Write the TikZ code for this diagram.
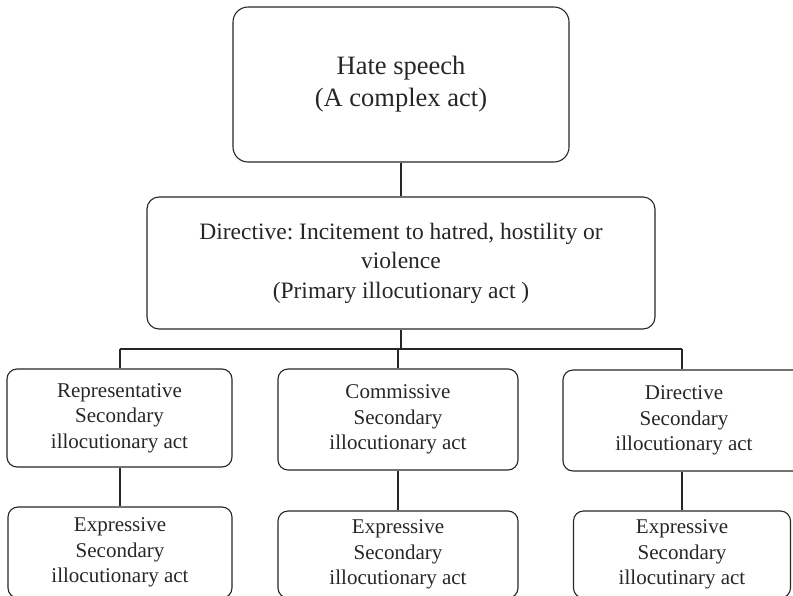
\documentclass[tikz,border=0pt]{standalone}
\usepackage{fontspec}
\setmainfont{Liberation Serif}
\frenchspacing
\begin{document}
\begin{tikzpicture}[x=1pt,y=-1pt,
  box/.style={draw=black!85, line width=1.1pt, align=center, inner sep=0pt, text=black!85},
  big/.style={box, rounded corners=15pt, font=\fontsize{26.5}{32}\selectfont},
  mid/.style={box, rounded corners=12pt, font=\fontsize{23.5}{29.5}\selectfont},
  small/.style={box, rounded corners=10pt, font=\fontsize{21}{25.5}\selectfont},
  con/.style={draw=black!85, line width=1.1pt}]
\useasboundingbox (0,0) rectangle (793,595);
\node[big, minimum width=336pt, minimum height=155pt] (top) at (401,84.5) {Hate speech\\ (A complex act)};
\node[mid, minimum width=508pt, minimum height=132pt] (dir) at (401,263) {Directive: Incitement to hatred, hostility or\\ violence\\ (Primary illocutionary act )};
\node[small, minimum width=225pt, minimum height=98pt] (rep) at (119.5,418) {Representative\\ Secondary\\ illocutionary act};
\node[small, minimum width=240pt, minimum height=101pt] (com) at (398,419.5) {Commissive\\ Secondary\\ illocutionary act};
\node[small, minimum width=242pt, minimum height=101pt] (dsec) at (684,420.5) {Directive\\ Secondary\\ illocutionary act};
\node[small, minimum width=224pt, minimum height=91pt] (e1) at (120,552.5) {Expressive\\ Secondary\\ illocutionary act};
\node[small, minimum width=240pt, minimum height=87pt] (e2) at (398,554.5) {Expressive\\ Secondary\\ illocutionary act};
\node[small, minimum width=217pt, minimum height=87pt] (e3) at (682,554.5) {Expressive\\ Secondary\\ illocutinary act};
\coordinate (j) at (401,349);
\coordinate (jl) at (120,349);
\coordinate (jm) at (398,349);
\coordinate (jr) at (682,349);
\draw[con] (top) -- (dir);
\draw[con] (dir.south) -- (j);
\draw[con] (jl) -- (jr);
\draw[con] (jl) -- (jl |- rep.north);
\draw[con] (jm) -- (com.north);
\draw[con] (jr) -- (jr |- dsec.north);
\draw[con] (e1.north |- rep.south) -- (e1.north);
\draw[con] (com.south) -- (e2.north);
\draw[con] (e3.north |- dsec.south) -- (e3.north);
\end{tikzpicture}
\end{document}
